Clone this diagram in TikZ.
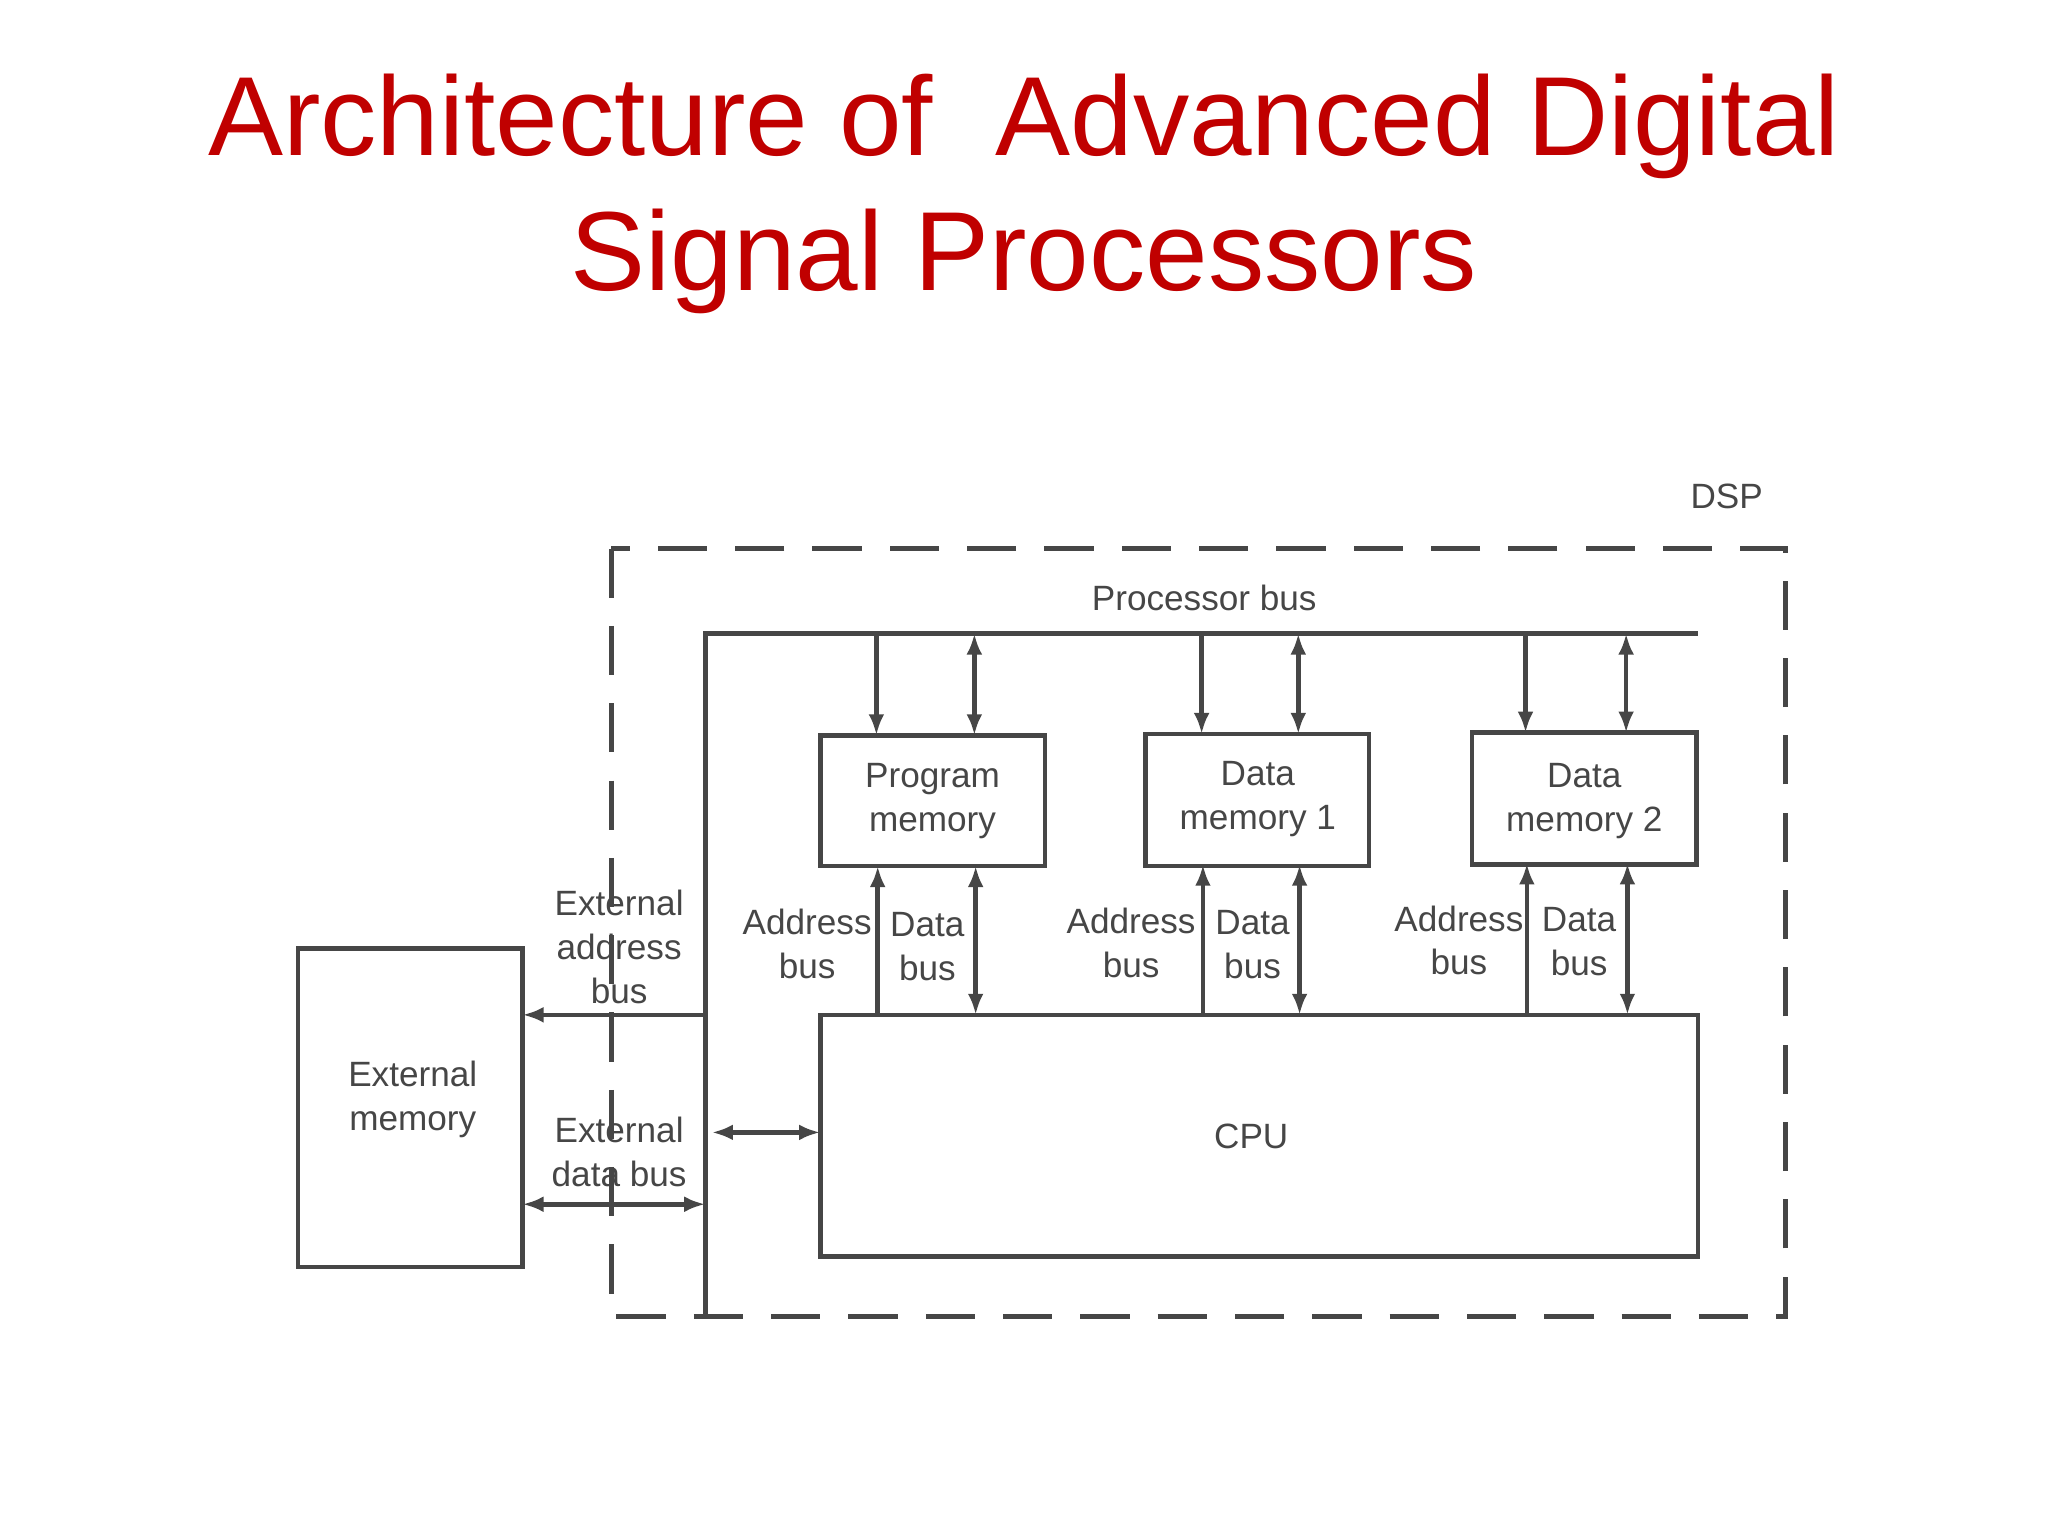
\documentclass[tikz,border=0pt]{standalone}
\usepackage{fontspec}
\setmainfont{Liberation Sans}
\usetikzlibrary{arrows.meta}
\definecolor{ttl}{RGB}{192,0,0}
\definecolor{ink}{RGB}{70,70,70}
\tikzset{
  blk/.style={draw=ink,line width=1.3pt,inner sep=0pt},
  bus/.style={draw=ink,line width=1.3pt},
  lbl/.style={text=ink,font=\fontsize{10}{12.5}\selectfont,align=center},
  tip/.style={-{Latex[length=6pt,width=4.5pt]}},
  dtip/.style={{Latex[length=6pt,width=4.5pt]}-{Latex[length=6pt,width=4.5pt]}}
}
\begin{document}
\begin{tikzpicture}[x=0.013061cm,y=-0.013061cm]
\useasboundingbox (0,0) rectangle (1568,1176);
\node[text=ttl,font=\fontsize{32}{38}\selectfont] (t1) at (784,97) {Architecture of~~Advanced Digital};
\node[text=ttl,font=\fontsize{32}{38}\selectfont] (t2) at (784,200) {Signal Processors};
% DSP box
\draw[ink,line width=1.5pt,dash pattern=on 14pt off 8pt] (468,420) rectangle (1367,1008);
\node[lbl] (dsp) at (1322,380) {DSP};
% buses
\coordinate (pbL) at (540,485); \coordinate (pbR) at (1300,485);
\coordinate (vbB) at (540,1010);
\draw[bus] (pbR) -- (pbL) -- (vbB);
\node[lbl] (pbl) at (922,458) {Processor bus};
% boxes
\draw[blk] (628,563) rectangle (800,663); \node[lbl] (pm) at (714,613) {Program\\memory};
\draw[blk] (877,562) rectangle (1048,663); \node[lbl] (dm1) at (963,612) {Data\\memory 1};
\draw[blk] (1127,561) rectangle (1299,662); \node[lbl] (dm2) at (1213,613) {Data\\memory 2};
\draw[blk] (628,777) rectangle (1300,962); \node[lbl] (cpu) at (958,870) {CPU};
\draw[blk] (228,726) rectangle (400,970); \node[lbl] (em) at (316,842) {External\\memory};
% bus to memories
\foreach \a/\d/\t in {671/746/563,920/994/562,1168/1245/561}{
  \draw[bus,tip] (\a,485) -- (\a,\t);
  \draw[bus,dtip] (\d,485) -- (\d,\t);
  \draw[bus,tip] (\a+1,777) -- (\a+1,\t+100);
  \draw[bus,dtip] (\d+1,777) -- (\d+1,\t+100);
}
\foreach \x/\y in {618/723,866/722,1117/720}{\node[lbl] at (\x,\y) {Address\\bus};}
\foreach \x/\y in {710/725,959/723,1209/721}{\node[lbl] at (\x,\y) {Data\\bus};}
% external
\draw[bus,tip] (540,777) -- (400,777);
\draw[bus,dtip] (545,867) -- (628,867);
\draw[bus,dtip] (400,922) -- (540,922);
\node[lbl] (eab) at (474,725) {External\\address\\bus};
\node[lbl] (edb) at (474,882) {External\\data bus};
\end{tikzpicture}
\end{document}
